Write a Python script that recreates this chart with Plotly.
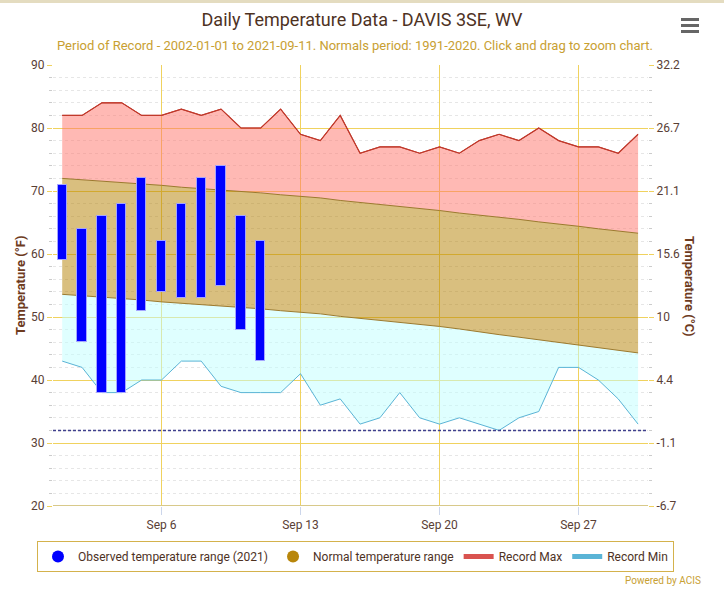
import plotly.graph_objects as go

# Data
dates = ["2021-09-%02d" % d for d in range(1, 31)]

rec_max = [82, 82, 84, 84, 82, 82, 83, 82, 83, 80, 80, 83, 79, 78, 82,
           76, 77, 77, 76, 77, 76, 78, 79, 78, 80, 78, 77, 77, 76, 79]
rec_min = [43, 42, 38, 38, 40, 40, 43, 43, 39, 38, 38, 38, 41, 36, 37,
           33, 34, 38, 34, 33, 34, 33, 32, 34, 35, 42, 42, 40, 37, 33]
norm_max = [72.0, 71.8, 71.6, 71.3, 71.1, 70.9, 70.6, 70.4, 70.1, 69.9,
            69.7, 69.4, 69.2, 68.9, 68.5, 68.2, 67.9, 67.5, 67.2, 66.9,
            66.5, 66.2, 65.8, 65.5, 65.1, 64.8, 64.4, 64.0, 63.7, 63.3]
norm_min = [53.6, 53.4, 53.1, 52.9, 52.7, 52.4, 52.2, 52.0, 51.7, 51.5,
            51.3, 51.0, 50.8, 50.5, 50.1, 49.8, 49.5, 49.1, 48.8, 48.5,
            48.1, 47.6, 47.2, 46.8, 46.4, 45.9, 45.5, 45.1, 44.7, 44.3]

obs_dates = dates[:11]
obs_max = [71, 64, 66, 68, 72, 62, 68, 72, 74, 66, 62]
obs_min = [59, 46, 38, 38, 51, 54, 53, 53, 55, 48, 43]

freezing = 32
f_range = [20, 90]
f_ticks = [20, 30, 40, 50, 60, 70, 80, 90]
c_labels = ["-6.7", "-1.1", "4.4", "10", "15.6", "21.1", "26.7", "32.2"]
x_range = ["2021-08-31 12:52:06", "2021-09-30 12:00"]


def to_c(f):
    return (f - 32) * 5 / 9


FONT = "Roboto"
BROWN = "#4e321f"
GOLD = "#c8a032"
GRID = "#f0d25e"
TICK = "#5a4035"

# plot area is 595 x 441 px (53..648, 65..506)
PW, PH = 595, 441


def px(x):
    return (x - 53) / PW


def py(y):
    return 1 + (65 - y) / PH


fig = go.Figure()

# record max / normal / record min bands
fig.add_trace(go.Scatter(
    x=dates, y=rec_max, mode="lines",
    line=dict(color="#c0392b", width=1), showlegend=False, hoverinfo="skip"))
fig.add_trace(go.Scatter(
    x=dates, y=norm_max, mode="lines", fill="tonexty",
    fillcolor="rgba(255,115,105,0.5)", line=dict(color="#9c7a2e", width=1),
    showlegend=False, hoverinfo="skip"))
fig.add_trace(go.Scatter(
    x=dates, y=norm_min, mode="lines", fill="tonexty",
    fillcolor="rgba(180,128,0,0.5)", line=dict(color="#9c7a2e", width=1),
    showlegend=False, hoverinfo="skip"))
fig.add_trace(go.Scatter(
    x=dates, y=rec_min, mode="lines", fill="tonexty",
    fillcolor="rgba(192,255,255,0.5)", line=dict(color="#5ab4d6", width=1),
    showlegend=False, hoverinfo="skip"))
fig.add_trace(go.Scatter(
    x=dates, y=rec_max, mode="lines",
    line=dict(color="#c0392b", width=1.2), showlegend=False, hoverinfo="skip"))

# invisible trace so the celsius axis shows
fig.add_trace(go.Scatter(
    x=dates, y=[to_c(v) for v in rec_max], yaxis="y2", mode="lines",
    line=dict(width=0), opacity=0, showlegend=False, hoverinfo="skip"))

# observed bars (own overlay axis so they sit above the fills)
fig.add_trace(go.Bar(
    x=obs_dates, y=[hi - lo for hi, lo in zip(obs_max, obs_min)], base=obs_min,
    yaxis="y3", width=0.47 * 86400000,
    marker=dict(color="#0000ff", line=dict(color="#a5a5ff", width=1)),
    showlegend=False))

# legend entries
fig.add_trace(go.Scatter(x=[None], y=[None], mode="markers", name="Observed temperature range (2021)",
                         marker=dict(color="#0000ff", size=14)))
fig.add_trace(go.Scatter(x=[None], y=[None], mode="markers", name="Normal temperature range",
                         marker=dict(color="#b8860b", size=14)))
fig.add_trace(go.Scatter(x=[None], y=[None], mode="lines", name="Record Max",
                         line=dict(color="#d9534f", width=2)))
fig.add_trace(go.Scatter(x=[None], y=[None], mode="lines", name="Record Min",
                         line=dict(color="#5ab4d6", width=2)))

fig.update_layout(
    width=724, height=596,
    margin=dict(l=53, r=76, t=65, b=90),
    paper_bgcolor="white", plot_bgcolor="white",
    font=dict(family=FONT, color=BROWN, size=12),
    title=dict(text="Daily Temperature Data - DAVIS 3SE, WV", x=0.5, xanchor="center",
               y=1 - 20 / 596, yanchor="middle", font=dict(size=18, color=BROWN)),
    showlegend=True,
    legend=dict(orientation="h", x=px(37), xanchor="left",
                y=py(541), yanchor="top", traceorder="normal",
                bordercolor="#d4b24c", borderwidth=1, bgcolor="white",
                font=dict(size=12, color=BROWN), itemsizing="constant",
                itemwidth=30, tracegroupgap=0),
    bargap=0,
    xaxis=dict(
        range=x_range,
        tick0="2021-09-06", dtick=7 * 86400000, tickformat="%b %-d",
        showgrid=True, gridcolor=GRID, gridwidth=1.3,
        ticks="outside", ticklen=8, tickcolor="#ccd6eb",
        showline=False, zeroline=False,
        tickfont=dict(size=12, color=TICK)),
    yaxis=dict(
        range=f_range, tickvals=f_ticks,
        showgrid=True, gridcolor=GRID, gridwidth=1.3, zeroline=False,
        ticks="outside", ticklen=5, tickcolor=GRID,
        tickfont=dict(size=12, color=TICK),
        minor=dict(dtick=2, showgrid=True, gridcolor="#e6e6e6", griddash="dot", gridwidth=1,
                   ticks="outside", ticklen=3, tickcolor="#cccccc")),
    yaxis2=dict(
        overlaying="y", side="right", anchor="x",
        range=[to_c(f_range[0]), to_c(f_range[1])],
        tickvals=[to_c(v) for v in f_ticks], ticktext=c_labels,
        showgrid=False, zeroline=False,
        ticks="outside", ticklen=5, tickcolor=GRID,
        tickfont=dict(size=12, color=TICK),
        minor=dict(tickvals=[to_c(v) for v in range(22, 90, 2)],
                   ticks="outside", ticklen=3, tickcolor="#cccccc")),
    yaxis3=dict(overlaying="y", range=f_range, visible=False),
    shapes=[
        dict(type="line", xref="paper", yref="y", x0=0, x1=1, y0=freezing, y1=freezing,
             line=dict(color="#3f3f8c", width=1.5, dash="3px,2px")),
        dict(type="line", xref="paper", yref="y", x0=0, x1=1, y0=f_range[0], y1=f_range[0],
             line=dict(color="#d8c98a", width=2)),
        dict(type="rect", xref="paper", yref="paper", x0=px(-20), x1=px(744),
             y0=py(3), y1=py(-5), fillcolor="#e4dcc0", line=dict(width=0)),
        # menu icon
        dict(type="rect", xref="paper", yref="paper", x0=px(681), x1=px(699),
             y0=py(18), y1=py(21), fillcolor="#666666", line=dict(width=0)),
        dict(type="rect", xref="paper", yref="paper", x0=px(681), x1=px(699),
             y0=py(24), y1=py(27), fillcolor="#666666", line=dict(width=0)),
        dict(type="rect", xref="paper", yref="paper", x0=px(681), x1=px(699),
             y0=py(30), y1=py(33), fillcolor="#666666", line=dict(width=0)),
    ],
    annotations=[
        dict(text="Period of Record - 2002-01-01 to 2021-09-11. Normals period: 1991-2020. Click and drag to zoom chart.",
             xref="paper", yref="paper", x=px(355), y=py(45), xanchor="center", yanchor="middle",
             showarrow=False, font=dict(size=13, color=GOLD)),
        dict(text="<b>Temperature (°F)</b>", textangle=-90,
             xref="paper", yref="paper", x=px(20), y=py(286), xanchor="center", yanchor="middle",
             showarrow=False, font=dict(size=13, color="#6e3b1e")),
        dict(text="<b>Temperature (°C)</b>", textangle=90,
             xref="paper", yref="paper", x=px(690), y=py(286), xanchor="center", yanchor="middle",
             showarrow=False, font=dict(size=13, color="#6e3b1e")),
        dict(text="Powered by ACIS", xref="paper", yref="paper", x=px(703), y=py(580),
             xanchor="right", yanchor="middle", showarrow=False, font=dict(size=10, color=GOLD)),
    ],
)

fig.write_html("out.html", config={"displayModeBar": False},
               post_script="document.body.style.margin='0';")
